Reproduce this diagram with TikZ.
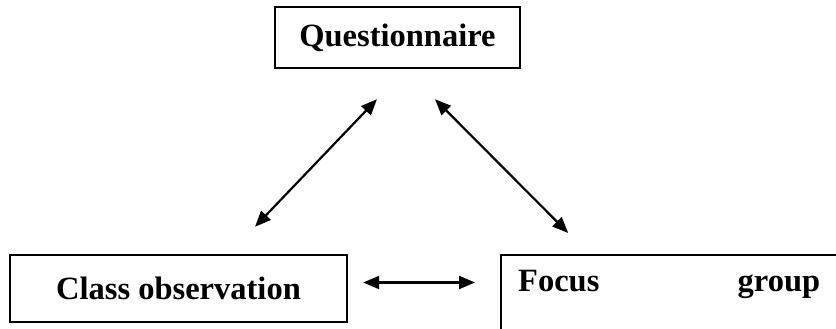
\documentclass[tikz,border=0pt]{standalone}
\usepackage{fontspec}
\setmainfont{Liberation Serif}
\usetikzlibrary{positioning,arrows.meta}

\begin{document}
\begin{tikzpicture}[x=1pt,y=1pt,
        box/.style={draw, line width=2.4pt, inner sep=0pt, font=\fontsize{32.5}{38}\selectfont\bfseries},
        biarrow/.style={{Triangle[length=16pt,width=13pt]}-{Triangle[length=16pt,width=13pt]}, line width=2.2pt}]
        \useasboundingbox (0,0) rectangle (836,329);
        \clip (0,0) rectangle (836,329);

        \node[box, minimum width=245pt, minimum height=61pt] (quest) at (397.5,291.5) {Questionnaire};
        \node[box, minimum width=337pt, minimum height=67pt] (classobs) at (178.5,40.5) {Class observation};
        \node[box, minimum width=360pt, minimum height=90pt, anchor=north west] (focus) at (500,75) {};
        \node[font=\fontsize{32.5}{38}\selectfont\bfseries, text width=302pt, inner sep=0pt, anchor=west] (focustext) at (518,45) {Focus \hfill group};

        \coordinate (hl) at ([xshift=15pt,yshift=6pt]classobs.east);
        \coordinate (hr) at ([xshift=-25pt]focus.west |- hl);
        \draw[biarrow] (hl) -- (hr);
        \draw[biarrow] ([xshift=76.5pt,yshift=27pt]classobs.north) -- ([xshift=-20.5pt,yshift=-30pt]quest.south);
        \draw[biarrow] ([xshift=37.5pt,yshift=-30pt]quest.south) -- ([xshift=-113pt,yshift=21pt]focus.north);
    \end{tikzpicture}
\end{document}
